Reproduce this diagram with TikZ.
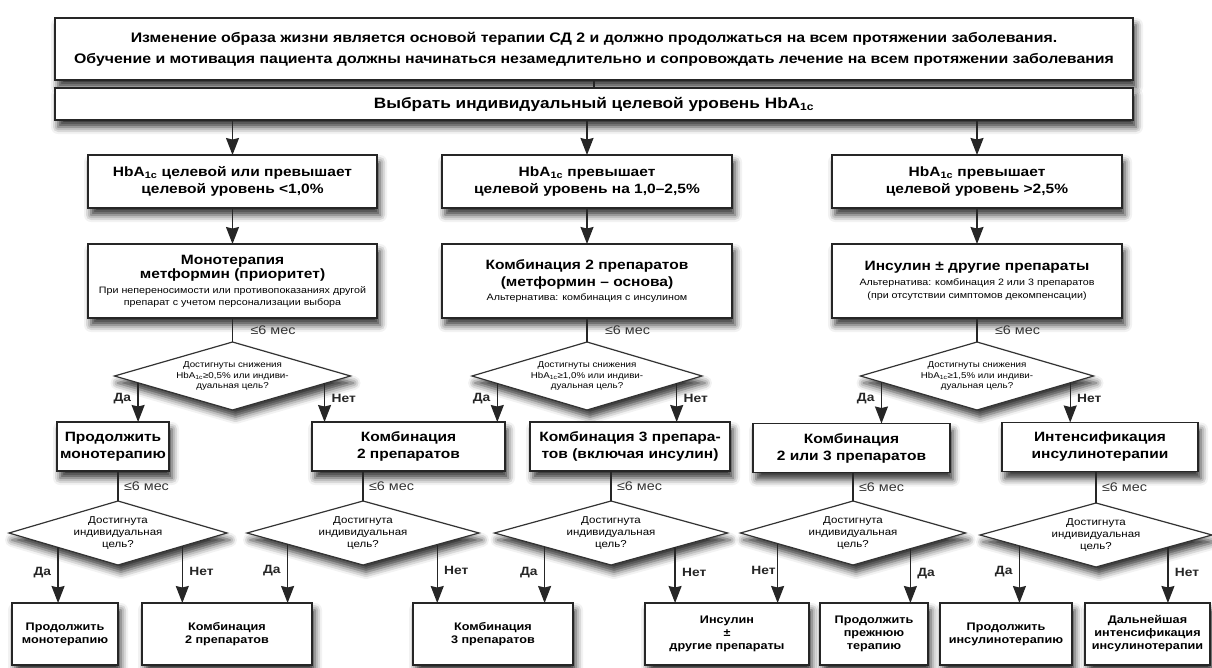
\documentclass[tikz,border=0pt]{standalone}
\usepackage{fontspec}
\setmainfont{Liberation Sans}[FakeStretch=1.15]
\usetikzlibrary{shapes.geometric,shadows.blur,calc,arrows.meta}
\begin{document}
\begin{tikzpicture}[x=1pt,y=-1pt,
  every node/.style={inner sep=0pt, outer sep=0pt, text=black},
  shad/.style={blur shadow={shadow xshift=3pt, shadow yshift=-7pt, shadow blur radius=7pt, shadow opacity=80}},
  box/.style={draw=black!85, line width=1.5pt, fill=white, align=center, shad},
  dia/.style={diamond, draw=black!80, line width=1.2pt, fill=white, align=center, shape aspect=3, shad},
  arr/.style={line width=1.4pt, draw=black!85, -{Stealth[length=17pt,width=13pt,inset=1.5pt]}},
  ln/.style={line width=1.4pt, draw=black!85},
  hd/.style={font=\fontsize{13.5}{17}\selectfont\bfseries},
  ft/.style={font=\fontsize{11}{13}\selectfont\bfseries},
  dq/.style={font=\fontsize{8.5}{10.5}\selectfont},
  dq2/.style={font=\fontsize{10}{12}\selectfont},
  lbl/.style={font=\fontsize{12}{14}\selectfont\bfseries, text=black!85},
  mes/.style={font=\fontsize{12.5}{14}\selectfont, text=black!80}
]
\useasboundingbox (0,0) rectangle (1212,667);

% top boxes
\node[box, minimum width=1078pt, minimum height=62pt, font=\fontsize{13.8}{21}\selectfont\bfseries] (t1) at (594,49)
  {Изменение образа жизни является основой терапии СД 2 и должно продолжаться на всем протяжении заболевания.\\
   Обучение и мотивация пациента должны начинаться незамедлительно и сопровождать лечение на всем протяжении заболевания};
\node[box, minimum width=1078pt, minimum height=32pt, font=\fontsize{15}{17}\selectfont\bfseries] (t2) at (594,104)
  {Выбрать индивидуальный целевой уровень HbA\textsubscript{1c}};
\draw[ln] (t1) -- (t2);

% level 1
\node[box, hd, minimum width=289pt, minimum height=53pt] (a1) at (232.5,181.5) {HbA\textsubscript{1c} целевой или превышает\\целевой уровень <1,0\%};
\node[box, hd, minimum width=290pt, minimum height=53pt] (a2) at (587,181.5) {HbA\textsubscript{1c} превышает\\целевой уровень на 1,0–2,5\%};
\node[box, hd, minimum width=290pt, minimum height=53pt] (a3) at (977,181.5) {HbA\textsubscript{1c} превышает\\целевой уровень >2,5\%};
\foreach \n in {a1,a2,a3} \draw[arr] (t2.south -| \n.north) -- (\n.north);

% level 2
\node[box, minimum width=289pt, minimum height=74pt, font=\fontsize{13.5}{14}\selectfont\bfseries] (m1) at (232.5,281)
  {Монотерапия\\метформин (приоритет)\\[1pt]
   {\fontsize{9.3}{11}\selectfont\mdseries При непереносимости или противопоказаниях другой}\\[-2pt]
   {\fontsize{9.3}{11}\selectfont\mdseries препарат с учетом персонализации выбора}};
\node[box, minimum width=290pt, minimum height=74pt, font=\fontsize{13.5}{17}\selectfont\bfseries] (m2) at (587,281)
  {Комбинация 2 препаратов\\(метформин – основа)\\[-3pt]
   {\fontsize{9.3}{11}\selectfont\mdseries Альтернатива: комбинация с инсулином}};
\node[box, minimum width=290pt, minimum height=74pt, font=\fontsize{13.5}{17}\selectfont\bfseries] (m3) at (977,281)
  {Инсулин ± другие препараты\\[-2pt]
   {\fontsize{9.3}{11}\selectfont\mdseries Альтернатива: комбинация 2 или 3 препаратов}\\[-4pt]
   {\fontsize{9.3}{11}\selectfont\mdseries (при отсутствии симптомов декомпенсации)}};
\draw[arr] (a1) -- (m1);
\draw[arr] (a2) -- (m2);
\draw[arr] (a3) -- (m3);

% level 3 diamonds
\node[dia, dq, minimum width=236pt, minimum height=68pt] (d1) at (232.5,376) {Достигнуты снижения\\HbA\textsubscript{1c}≥0,5\% или индиви-\\дуальная цель?};
\node[dia, dq, minimum width=230pt, minimum height=68pt] (d2) at (587,376) {Достигнуты снижения\\HbA\textsubscript{1c}≥1,0\% или индиви-\\дуальная цель?};
\node[dia, dq, minimum width=233pt, minimum height=68pt] (d3) at (977,376) {Достигнуты снижения\\HbA\textsubscript{1c}≥1,5\% или индиви-\\дуальная цель?};
\draw[ln] (m1) -- node[mes, midway, right=18pt]{≤6 мес} (d1);
\draw[ln] (m2) -- node[mes, midway, right=18pt]{≤6 мес} (d2);
\draw[ln] (m3) -- node[mes, midway, right=18pt]{≤6 мес} (d3);

% level 4 boxes
\node[box, hd, minimum width=112pt, minimum height=49pt] (b1) at (113,446.5) {Продолжить\\монотерапию};
\node[box, hd, minimum width=193pt, minimum height=49pt] (b2) at (408.5,446.5) {Комбинация\\2 препаратов};
\node[box, hd, minimum width=200pt, minimum height=49pt] (b3) at (630,446.5) {Комбинация 3 препара-\\тов (включая инсулин)};
\node[box, hd, minimum width=197pt, minimum height=49pt] (b4) at (851.5,448) {Комбинация\\2 или 3 препаратов};
\node[box, hd, minimum width=196pt, minimum height=49pt] (b5) at (1100,447) {Интенсификация\\инсулинотерапии};

\coordinate (p1) at ($(d1.south)!0.80!(d1.west)$);
\coordinate (p2) at ($(d1.south)!0.78!(d1.east)$);
\coordinate (p3) at ($(d2.south)!0.78!(d2.west)$);
\coordinate (p4) at ($(d2.south)!0.78!(d2.east)$);
\coordinate (p5) at ($(d3.south)!0.82!(d3.west)$);
\coordinate (p6) at ($(d3.south)!0.80!(d3.east)$);
\draw[arr] (p1) -- node[lbl, pos=0.4, left=7pt]{Да} (p1 |- b1.north);
\draw[arr] (p2) -- node[lbl, pos=0.4, right=7pt]{Нет} (p2 |- b2.north);
\draw[arr] (p3) -- node[lbl, pos=0.4, left=7pt]{Да} (p3 |- b2.north);
\draw[arr] (p4) -- node[lbl, pos=0.4, right=7pt]{Нет} (p4 |- b3.north);
\draw[arr] (p5) -- node[lbl, pos=0.4, left=7pt]{Да} (p5 |- b4.north);
\draw[arr] (p6) -- node[lbl, pos=0.4, right=7pt]{Нет} (p6 |- b5.north);

% level 5 diamonds
\node[dia, dq2, minimum width=218pt, minimum height=64pt] (e1) at (118,533) {Достигнута\\индивидуальная\\цель?};
\node[dia, dq2, minimum width=232pt, minimum height=64pt] (e2) at (363,533) {Достигнута\\индивидуальная\\цель?};
\node[dia, dq2, minimum width=233pt, minimum height=64pt] (e3) at (611,533) {Достигнута\\индивидуальная\\цель?};
\node[dia, dq2, minimum width=225pt, minimum height=64pt] (e4) at (853,533) {Достигнута\\индивидуальная\\цель?};
\node[dia, dq2, minimum width=232pt, minimum height=64pt] (e5) at (1096,535) {Достигнута\\индивидуальная\\цель?};
\draw[ln] (e1.north |- b1.south) -- node[mes, midway, right=6pt]{≤6 мес} (e1.north);
\draw[ln] (e2.north |- b2.south) -- node[mes, midway, right=6pt]{≤6 мес} (e2.north);
\draw[ln] (e3.north |- b3.south) -- node[mes, midway, right=6pt]{≤6 мес} (e3.north);
\draw[ln] (e4.north |- b4.south) -- node[mes, midway, right=6pt]{≤6 мес} (e4.north);
\draw[ln] (e5.north |- b5.south) -- node[mes, midway, right=6pt]{≤6 мес} (e5.north);

% bottom boxes
\node[box, ft, minimum width=106pt, minimum height=62pt] (c1) at (65,634) {Продолжить\\монотерапию};
\node[box, ft, minimum width=170pt, minimum height=62pt] (c2) at (227,634) {Комбинация\\2 препаратов};
\node[box, ft, minimum width=160pt, minimum height=62pt] (c3) at (493,634) {Комбинация\\3 препаратов};
\node[box, ft, minimum width=164pt, minimum height=62pt] (c4) at (727,634) {Инсулин\\±\\другие препараты};
\node[box, ft, minimum width=108pt, minimum height=62pt] (c5) at (874,634) {Продолжить\\прежнюю\\терапию};
\node[box, ft, minimum width=132pt, minimum height=62pt] (c6) at (1006,634) {Продолжить\\инсулинотерапию};
\node[box, ft, minimum width=125pt, minimum height=62pt] (c7) at (1147.5,634) {Дальнейшая\\интенсификация\\инсулинотерапии};

\coordinate (q1) at ($(e1.south)!0.55!(e1.west)$);
\coordinate (q2) at ($(e1.south)!0.59!(e1.east)$);
\coordinate (q3) at ($(e2.south)!0.65!(e2.west)$);
\coordinate (q4) at ($(e2.south)!0.64!(e2.east)$);
\coordinate (q5) at ($(e3.south)!0.57!(e3.west)$);
\coordinate (q6) at ($(e3.south)!0.55!(e3.east)$);
\coordinate (q7) at ($(e4.south)!0.67!(e4.west)$);
\coordinate (q8) at ($(e4.south)!0.51!(e4.east)$);
\coordinate (q9) at ($(e5.south)!0.66!(e5.west)$);
\coordinate (q10) at ($(e5.south)!0.62!(e5.east)$);
\draw[arr] (q1) -- node[lbl, pos=0.45, left=7pt]{Да} (q1 |- c1.north);
\draw[arr] (q2) -- node[lbl, pos=0.45, right=7pt]{Нет} (q2 |- c2.north);
\draw[arr] (q3) -- node[lbl, pos=0.45, left=7pt]{Да} (q3 |- c2.north);
\draw[arr] (q4) -- node[lbl, pos=0.45, right=7pt]{Нет} (q4 |- c3.north);
\draw[arr] (q5) -- node[lbl, pos=0.45, left=7pt]{Да} (q5 |- c3.north);
\draw[arr] (q6) -- node[lbl, pos=0.45, right=7pt]{Нет} (q6 |- c4.north);
\draw[arr] (q7) -- node[lbl, pos=0.45, left=2pt]{Нет} (q7 |- c4.north);
\draw[arr] (q8) -- node[lbl, pos=0.45, right=7pt]{Да} (q8 |- c5.north);
\draw[arr] (q9) -- node[lbl, pos=0.45, left=7pt]{Да} (q9 |- c6.north);
\draw[arr] (q10) -- node[lbl, pos=0.45, right=7pt]{Нет} (q10 |- c7.north);
\end{tikzpicture}
\end{document}
